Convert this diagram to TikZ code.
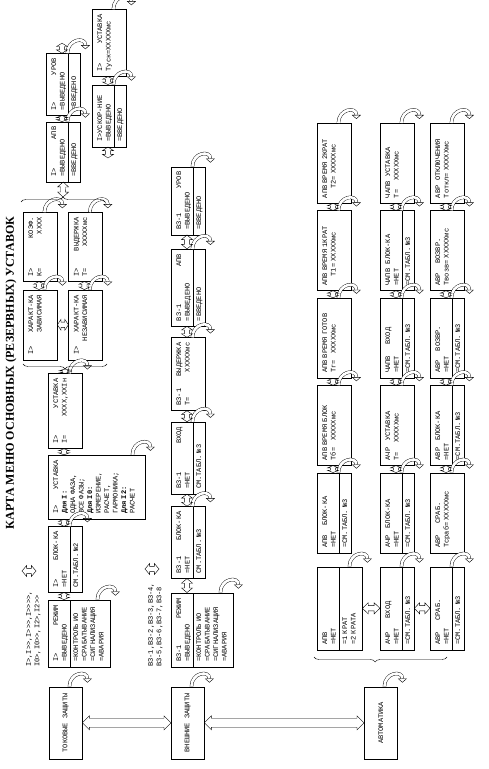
\documentclass[tikz,border=0pt]{standalone}
\usepackage{fontspec}
\setmainfont{Liberation Serif}
\setmonofont{Liberation Mono}
\usepackage{tikz}
\usetikzlibrary{positioning,arrows.meta,decorations.pathreplacing,calc}

\newcommand{\menufont}{\ttfamily\fontsize{7}{8.5}\selectfont}
% enter arrow at the lower right corner of a box
\newcommand{\entr}[1]{\draw[ent] ([yshift=13pt]#1.south east) .. controls +(14pt,0pt) and +(13pt,0pt) .. ([xshift=4pt,yshift=-5pt]#1.south east);}
% line under the first two text lines
\newcommand{\divl}[1]{\draw ([yshift=-22pt]#1.north west) -- ([yshift=-22pt]#1.north east);}
% hollow double arrow: from, to, head length, head half width, shaft half width
\newcommand{\hol}[5]{\draw (#1) -- ($(#1)!#3!(#2)!#4!90:(#2)$) -- ($(#1)!#3!(#2)!#5!90:(#2)$)
    -- ($(#2)!#3!(#1)!#5!-90:(#1)$) -- ($(#2)!#3!(#1)!#4!-90:(#1)$) -- (#2)
    -- ($(#2)!#3!(#1)!#4!90:(#1)$) -- ($(#2)!#3!(#1)!#5!90:(#1)$)
    -- ($(#1)!#3!(#2)!#5!-90:(#2)$) -- ($(#1)!#3!(#2)!#4!-90:(#2)$) -- cycle;}
\newcommand{\dbl}[2]{\hol{#1}{#2}{0.33}{5.5pt}{2.6pt}}
\newcommand{\bigdbl}[2]{\hol{#1}{#2}{7pt}{7pt}{4.5pt}}
% scroll arrow between neighbours
\newcommand{\lnk}[2]{\coordinate (la) at ([yshift=-16pt]#1.north east);
    \coordinate (lb) at ([yshift=-16pt]#2.north west);
    \dbl{la}{lb}}

\begin{document}
\begin{tikzpicture}[x=1pt, y=-1pt, rotate=90, transform shape,
    menu/.style={draw, anchor=north west, font=\menufont, align=left, inner xsep=5pt, inner ysep=3pt, text height=7pt, text depth=21pt, text width=#1},
    group/.style={draw, anchor=north west, font=\menufont, minimum width=72pt, minimum height=33pt, inner sep=0pt},
    lbl/.style={anchor=north west, font=\menufont, align=left, inner sep=0pt},
    ent/.style={double, double distance=2.6pt, -{Triangle[open, length=4pt, width=9pt]}},
    brc/.style={decorate, decoration={brace, amplitude=5pt}}
]
\useasboundingbox (0,0) rectangle (769,489);

\node[font=\bfseries\fontsize{12}{14}\selectfont] (title) at (396,11) {КАРТА МЕНЮ ОСНОВНЫХ (РЕЗЕРВНЫХ) УСТАВОК};

% Current protections
\node[group] (tok) at (10,49) {ТОКОВЫЕ ЗАЩИТЫ};
\node[lbl] (ilist) at (102,26) {I>,I>>,I>>>,I>>>>,\\I0>,I0>>,I2>,I2>>};
\node[menu=57pt, text depth=49pt] (rej1) at (102,48) {I>\hfill РЕЖИМ\\=ВЫВЕДЕНО\\[3pt]=КОНТРОЛЬ ИО\\=СРАБАТЫВАНИЕ\\=СИГНАЛИЗАЦИЯ\\=АВАРИЯ};
\node[menu=56pt, right=7pt of rej1.north east, anchor=north west] (blk1) {I>\hfill БЛОК-КА\\=НЕТ\\[3pt]СМ.ТАБЛ. №2};
\node[menu=54pt, text depth=84pt, right=7pt of blk1.north east, anchor=north west] (ust1) {I>\hfill УСТАВКА\\\textbf{Для I:}\\ОДНА ФАЗА,\\ВСЕ ФАЗЫ;\\\textbf{Для I0:}\\ИЗМЕРЕНИЕ,\\РАСЧЕТ,\\ГАРМОНИКА;\\\textbf{Для I2:}\\РАСЧЕТ};
\node[menu=65pt, right=6pt of ust1.north east, anchor=north west] (ustx1) {I>\hfill УСТАВКА\\I=\hfill XXXX,XXIн};
\node[menu=60pt] (har1) at (409,23) {I>\hfill ХАРАКТ-КА\\\hspace*{\fill}ЗАВИСИМАЯ};
\node[menu=60pt, below=11pt of har1.south west, anchor=north west] (har2) {I>\hfill ХАРАКТ-КА\\\hspace*{\fill}НЕЗАВИСИМАЯ};
\node[menu=59pt, right=8pt of har1.north east, anchor=north west] (kof) {I>\hfill КОЭФ.\\K=\hfill XXXX};
\node[menu=59pt, right=8pt of har2.north east, anchor=north west] (vyd) {I>\hfill ВЫДЕРЖКА\\T=\hfill XXXXXмс};
\node[menu=50pt] (apv1) at (587,46) {I>\hfill АПВ\\=ВЫВЕДЕНО\\[3pt]=ВВЕДЕНО};
\node[menu=52pt, right=6pt of apv1.north east, anchor=north west] (urov1) {I>\hfill УРОВ\\=ВЫВЕДЕНО\\[3pt]=ВВЕДЕНО};
\node[menu=52pt] (uskor) at (622,92) {I>УСКОР-НИЕ\\=ВЫВЕДЕНО\\[3pt]=ВВЕДЕНО};
\node[menu=57pt, right=8pt of uskor.north east, anchor=north west] (tusk) {I>\hfill УСТАВКА\\Туск=XXXXXмс};

% External protections
\node[group] (vne) at (10,171) {ВНЕШНИЕ ЗАЩИТЫ};
\node[lbl] (vzlist) at (102,148) {ВЗ-1,ВЗ-2,ВЗ-3,ВЗ-4,\\ВЗ-5,ВЗ-6,ВЗ-7,ВЗ-8};
\node[menu=64pt, text depth=49pt] (rej2) at (102,171) {ВЗ-1\hfill РЕЖИМ\\=ВЫВЕДЕНО\\[3pt]=КОНТРОЛЬ ИО\\=СРАБАТЫВАНИЕ\\=СИГНАЛИЗАЦИЯ\\=АВАРИЯ};
\node[menu=62pt, right=14pt of rej2.north east, anchor=north west] (blk2) {ВЗ-1\hfill БЛОК-КА\\=НЕТ\\[3pt]СМ.ТАБЛ. №3};
\node[menu=62pt, right=12pt of blk2.north east, anchor=north west] (vhod2) {ВЗ-1\hfill ВХОД\\=НЕТ\\[3pt]СМ.ТАБЛ. №3};
\node[menu=63pt, right=11pt of vhod2.north east, anchor=north west] (vyd2) {ВЗ-1\hfill ВЫДЕРЖКА\\T=\hfill XXXXXмс};
\node[menu=67pt, right=11pt of vyd2.north east, anchor=north west] (apv2) {ВЗ-1\hfill АПВ\\=ВЫВЕДЕНО\\[3pt]=ВВЕДЕНО};
\node[menu=58pt, right=14pt of apv2.north east, anchor=north west] (urov2) {ВЗ-1\hfill УРОВ\\=ВЫВЕДЕНО\\[3pt]=ВВЕДЕНО};

% Automatics
\node[group] (avt) at (10,364) {АВТОМАТИКА};
\node[menu=73pt, text depth=32pt] (ap1) at (119,317) {АПВ\\=НЕТ\\[3pt]=1 КРАТ\\=2 КРАТА};
\node[menu=73pt] (ach1) at (119,380) {АЧР~~~~~~ВХОД\\=НЕТ\\[3pt]=СМ.ТАБЛ. №3};
\node[menu=73pt] (avr1) at (119,430) {АВР~~~~~СРАБ.\\=НЕТ\\[3pt]=СМ.ТАБЛ. №3};
\node[menu=70pt] (ap2) at (216,317) {АПВ~~~~БЛОК-КА\\=НЕТ\\[3pt]=СМ.ТАБЛ. №3};
\node[menu=70pt, right=7pt of ap2.north east, anchor=north west] (ap3) {АПВ~ВРЕМЯ~БЛОК\\Тб=~~~XXXXXмс};
\node[menu=70pt, right=7pt of ap3.north east, anchor=north west] (ap4) {АПВ~ВРЕМЯ~ГОТОВ\\Тг=~~~XXXXXмс};
\node[menu=70pt, right=7pt of ap4.north east, anchor=north west] (ap5) {АПВ~ВРЕМЯ~1КРАТ\\~~~~T1=~XXXXXмс};
\node[menu=70pt, right=7pt of ap5.north east, anchor=north west] (ap6) {АПВ~ВРЕМЯ~2КРАТ\\~~~~T2=~XXXXXмс};
\node[menu=70pt] (ach2) at (216,380) {АЧР~~~БЛОК-КА\\=НЕТ\\[3pt]=СМ.ТАБЛ. №3};
\node[menu=70pt, right=7pt of ach2.north east, anchor=north west] (ach3) {АЧР~~~УСТАВКА\\T=~~~~XXXXXмс};
\node[menu=70pt, right=7pt of ach3.north east, anchor=north west] (ach4) {ЧАПВ~~~~~ВХОД\\=НЕТ\\[3pt]=СМ.ТАБЛ. №3};
\node[menu=70pt, right=7pt of ach4.north east, anchor=north west] (ach5) {ЧАПВ~~БЛОК-КА\\=НЕТ\\[3pt]=СМ.ТАБЛ. №3};
\node[menu=70pt, right=7pt of ach5.north east, anchor=north west] (ach6) {ЧАПВ~~УСТАВКА\\T=~~~~XXXXXмс};
\node[menu=70pt] (avr2) at (216,430) {АВР~~~~~СРАБ.\\Тсраб=~XXXXXмс};
\node[menu=70pt, right=7pt of avr2.north east, anchor=north west] (avr3) {АВР~~~БЛОК-КА\\=НЕТ\\[3pt]=СМ.ТАБЛ. №3};
\node[menu=70pt, right=7pt of avr3.north east, anchor=north west] (avr4) {АВР~~~~ВОЗВР.\\=НЕТ\\[3pt]=СМ.ТАБЛ. №3};
\node[menu=70pt, right=7pt of avr4.north east, anchor=north west] (avr5) {АВР~~~~ВОЗВР.\\Твозв=~XXXXXмс};
\node[menu=70pt, right=7pt of avr5.north east, anchor=north west] (avr6) {АВР~~ОТКЛЮЧЕНИЯ\\Тоткл=~XXXXXмс};

% Dividers and enter arrows
\foreach \n in {rej1,blk1,apv1,urov1,uskor,rej2,blk2,vhod2,apv2,urov2,ap1,ap2,ach1,ach2,ach4,ach5,avr1,avr3,avr4}
    {\divl{\n}}
\foreach \n in {tok,rej1,blk1,ust1,ustx1,har1,har2,kof,vyd,apv1,urov1,uskor,tusk,vne,rej2,blk2,vhod2,vyd2,apv2,urov2,avt,ap1,ap2,ap3,ap4,ap5,ap6,ach1,ach2,ach3,ach4,ach5,ach6,avr1,avr2,avr3,avr4,avr5,avr6}
    {\entr{\n}}

% Braces
\draw[brc] (405,107) -- (405,23);
\coordinate (tp1) at (400,65);
\draw[brc] (567,21) -- (567,105);
\coordinate (tp2) at (572,63);
\draw[brc, decoration={aspect=0.54}] (112,447) -- (112,314);

% Connections
\bigdbl{tok.south}{vne.north}
\bigdbl{vne.south}{avt.north}
\lnk{rej1}{blk1}
\lnk{blk1}{ust1}
\lnk{ust1}{ustx1}
\dbl{ustx1.east}{tp1}
\dbl{har1.south}{har2.north}
\lnk{har1}{kof}
\lnk{har2}{vyd}
\dbl{tp2}{apv1.west}
\lnk{apv1}{urov1}
\coordinate (urv) at ([xshift=10pt,yshift=-16pt]urov1.north east);
\coordinate (urv0) at ([yshift=-16pt]urov1.north east);
\dbl{urv0}{urv}
\coordinate (usk) at ([xshift=-11pt,yshift=-16pt]uskor.north west);
\coordinate (usk0) at ([yshift=-16pt]uskor.north west);
\dbl{usk}{usk0}
\lnk{uskor}{tusk}
\coordinate (s1) at (198,22);
\coordinate (s2) at (198,36);
\dbl{s1}{s2}

\lnk{rej2}{blk2}
\lnk{blk2}{vhod2}
\lnk{vhod2}{vyd2}
\lnk{vyd2}{apv2}
\lnk{apv2}{urov2}
\coordinate (s3) at (200,145);
\coordinate (s4) at (200,159);
\dbl{s3}{s4}

\dbl{ap1.south}{ach1.north}
\dbl{ach1.south}{avr1.north}
\foreach \r in {ap,ach,avr}{
    \foreach \i [evaluate=\i as \j using int(\i+1)] in {2,...,5}
        {\lnk{\r\i}{\r\j}}
}
\end{tikzpicture}
\end{document}
